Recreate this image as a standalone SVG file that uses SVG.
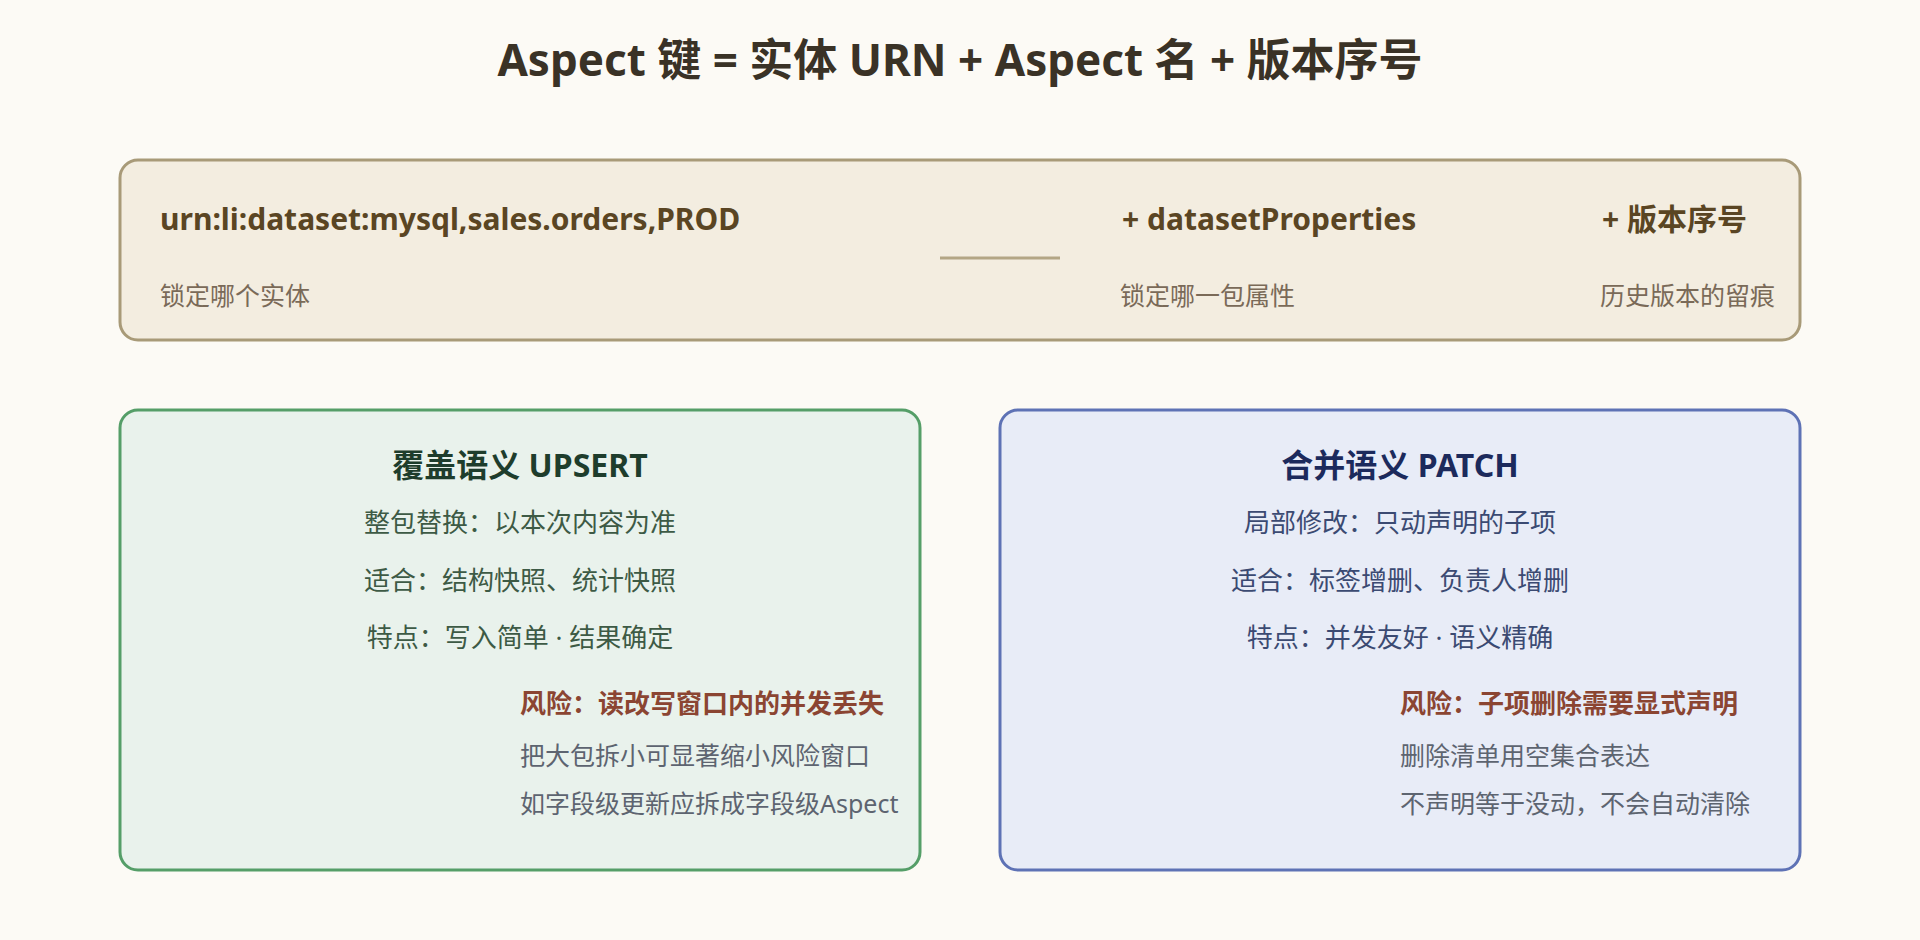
<svg xmlns="http://www.w3.org/2000/svg" width="1920" height="940" viewBox="0 0 1920 940">
<style>
text{font-family:"Noto Sans","Noto Sans CJK SC",sans-serif}
.title{font-size:44px;font-weight:700;fill:#3a3226}
.key{font-size:30px;font-weight:700;fill:#5a4523}
.keysub{font-size:25px;fill:#7a6a58}
.h{font-size:32px;font-weight:700}
.ln{font-size:26px}
.risk{font-size:26px;font-weight:700;fill:#8b4532}
.note{font-size:25px;fill:#5d6470}
</style>
<rect width="1920" height="940" fill="#fcfaf5"/>
<text class="title" x="960" y="76" text-anchor="middle">Aspect 键 = 实体 URN + Aspect 名 + 版本序号</text>
<g id="key">
<rect x="120" y="160" width="1680" height="180" rx="18" fill="#f3ede0" stroke="#a89a78" stroke-width="3"/>
<text class="key" x="160" y="230">urn:li:dataset:mysql,sales.orders,PROD</text>
<text class="key" x="1122" y="230">+ datasetProperties</text>
<text class="key" x="1602" y="230">+ 版本序号</text>
<text class="keysub" x="160" y="305">锁定哪个实体</text>
<text class="keysub" x="1120" y="305">锁定哪一包属性</text>
<text class="keysub" x="1600" y="305">历史版本的留痕</text>
</g>
<g id="connectors">
<line x1="940" y1="258" x2="1060" y2="258" stroke="#b3a685" stroke-width="3"/>
</g>
<g id="upsert">
<rect x="120" y="410" width="800" height="460" rx="18" fill="#e9f2ec" stroke="#559e68" stroke-width="3"/>
<text class="h" x="520" y="477" text-anchor="middle" fill="#1e3d2c">覆盖语义 UPSERT</text>
<text class="ln" x="520" y="532" text-anchor="middle" fill="#3d5a45">整包替换：以本次内容为准</text>
<text class="ln" x="520" y="590" text-anchor="middle" fill="#3d5a45">适合：结构快照、统计快照</text>
<text class="ln" x="520" y="647" text-anchor="middle" fill="#3d5a45">特点：写入简单 · 结果确定</text>
<text class="risk" x="520" y="713">风险：读改写窗口内的并发丢失</text>
<text class="note" x="520" y="765">把大包拆小可显著缩小风险窗口</text>
<text class="note" x="520" y="813">如字段级更新应拆成字段级Aspect</text>
</g>
<g id="patch">
<rect x="1000" y="410" width="800" height="460" rx="18" fill="#e8ecf7" stroke="#5e72b5" stroke-width="3"/>
<text class="h" x="1400" y="477" text-anchor="middle" fill="#1c2a5c">合并语义 PATCH</text>
<text class="ln" x="1400" y="532" text-anchor="middle" fill="#3b4a72">局部修改：只动声明的子项</text>
<text class="ln" x="1400" y="590" text-anchor="middle" fill="#3b4a72">适合：标签增删、负责人增删</text>
<text class="ln" x="1400" y="647" text-anchor="middle" fill="#3b4a72">特点：并发友好 · 语义精确</text>
<text class="risk" x="1400" y="713">风险：子项删除需要显式声明</text>
<text class="note" x="1400" y="765">删除清单用空集合表达</text>
<text class="note" x="1400" y="813">不声明等于没动，不会自动清除</text>
</g>
</svg>
